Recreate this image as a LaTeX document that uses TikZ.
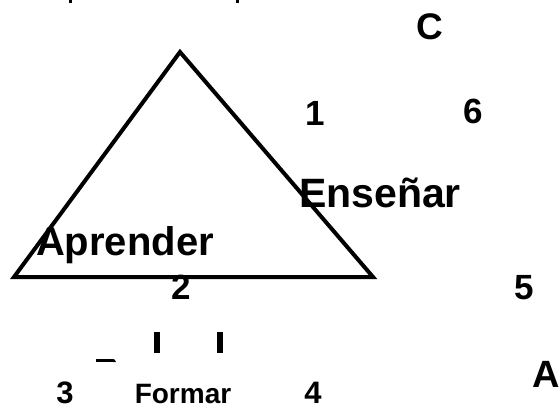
\documentclass[tikz,border=0pt]{standalone}
\usepackage{fontspec}
\setmainfont{Liberation Sans}
\usetikzlibrary{positioning}

\begin{document}
\begin{tikzpicture}[
        x=1pt, y=-1pt,
        label/.style={inner sep=0pt, anchor=base, font=\bfseries\fontsize{35}{35}\selectfont},
        word/.style={label, font=\bfseries\fontsize{40}{40}\selectfont},
        small/.style={label, font=\bfseries\fontsize{28}{28}\selectfont},
        side/.style={line width=4pt, line join=miter}
    ]
        \useasboundingbox (0,0) rectangle (559,409);

        % Triangle
        \coordinate (top) at (180,52);
        \coordinate (left) at (14,277);
        \coordinate (right) at (373,277);
        \draw [side] (top) -- (right) -- (left) -- cycle;

        % Nodes
        \node (c) [label, font=\bfseries\fontsize{37}{37}\selectfont] at (430,40) {C};
        \node (one) [label] at (315,125) {1};
        \node (six) [label] at (473,124) {6};
        \node (ensenar) [word, font=\bfseries\fontsize{41}{41}\selectfont] at (380,207) {Enseñar};
        \node (aprender) [word] at (125,255) {Aprender};
        \node (two) [label] at (181,299) {2};
        \node (five) [label] at (524,299) {5};
        \node (three) [label, font=\bfseries\fontsize{31}{31}\selectfont] at (65,403) {3};
        \node (formar) [small] at (183,403) {Formar};
        \node (four) [label, font=\bfseries\fontsize{31}{31}\selectfont] at (313,403) {4};
        \node (a) [label, font=\bfseries\fontsize{38}{38}\selectfont] at (546,387) {A};

        % Cut-off pieces
        \fill (69,0) rectangle (72,3);
        \fill (236,0) rectangle (239,3);
        \fill (154,332) rectangle (160,353);
        \fill (217,332) rectangle (223,353);
        \fill (96,359) rectangle (113,362);
        \fill (113,359) .. controls (115,359.5) .. (116,362) -- (113,362) -- cycle;
    \end{tikzpicture}
\end{document}
